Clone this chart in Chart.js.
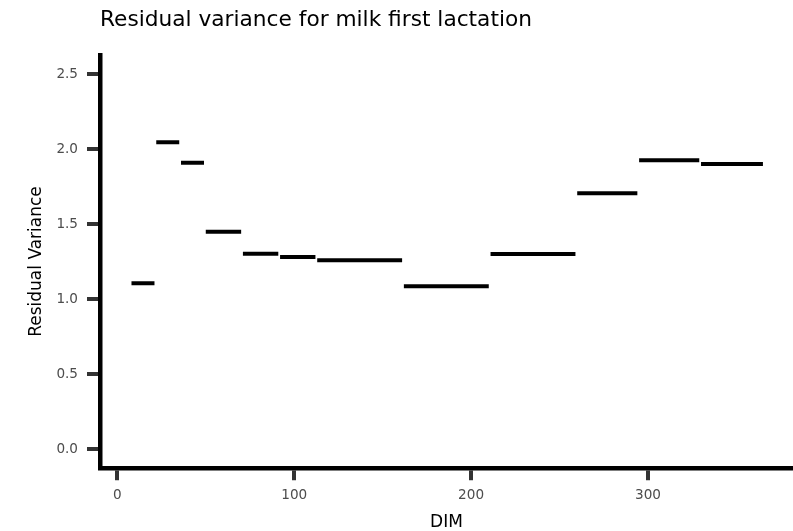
<!DOCTYPE html>
<html><head><meta charset="utf-8">
<script src="https://cdn.jsdelivr.net/npm/chart.js@4"></script>
<style>html,body{margin:0;padding:0;background:#fff;overflow:hidden}</style>
</head><body><canvas id="c" width="793" height="531"></canvas>
<script>
const segStart = [8, 22, 36, 50, 71, 92, 113, 162, 211, 260, 295, 330];
const segEnd = [21, 35, 49, 70, 91, 112, 161, 210, 259, 294, 329, 365];
const residualVariance = [1.105, 2.045, 1.909, 1.449, 1.302, 1.280, 1.258, 1.085, 1.300, 1.705, 1.925, 1.900];
const xTicks = [0, 100, 200, 300];
const yTicks = [0.0, 0.5, 1.0, 1.5, 2.0, 2.5];

const FONT = "'DejaVu Sans', 'Liberation Sans', sans-serif";
Chart.defaults.font.family = FONT;

const datasets = residualVariance.map((v, i) => ({
  data: [{x: segStart[i], y: v}, {x: segEnd[i], y: v}],
  showLine: true,
  borderColor: '#000',
  borderWidth: 4,
  borderCapStyle: 'butt',
  pointRadius: 0,
  pointHoverRadius: 0,
  fill: false
}));

new Chart(document.getElementById('c'), {
  type: 'scatter',
  data: { datasets },
  options: {
    responsive: false,
    animation: false,
    devicePixelRatio: 1,
    layout: { padding: 0 },
    plugins: {
      legend: { display: false },
      tooltip: { enabled: false },
      title: {
        display: true,
        text: 'Residual variance for milk first lactation',
        align: 'start',
        fullSize: false,
        color: '#000',
        font: { size: 21.7, weight: 'normal', lineHeight: 1.2 },
        padding: { top: 7.7, bottom: 21.5 }
      }
    },
    scales: {
      x: {
        type: 'linear',
        min: -9.8,
        max: 382,
        afterFit: s => { s.height = 63.25; },
        afterBuildTicks: s => { s.ticks = xTicks.map(v => ({ value: v })); },
        ticks: { color: '#4d4d4d', font: { size: 13.6 }, padding: 7, maxRotation: 0, autoSkip: false },
        grid: { drawOnChartArea: false, drawTicks: true, tickLength: 12.5, lineWidth: 4, tickColor: '#333333' },
        border: { display: true, color: '#000', width: 4.5 },
        title: { display: true, text: 'DIM', color: '#000', font: { size: 17, lineHeight: 1 }, padding: { top: 0, bottom: 0 } }
      },
      y: {
        type: 'linear',
        min: -0.125,
        max: 2.625,
        afterFit: s => { s.width = 100; },
        afterBuildTicks: s => { s.ticks = yTicks.map(v => ({ value: v })); },
        ticks: { color: '#4d4d4d', font: { size: 13.6 }, padding: 9, callback: v => Number(v).toFixed(1) },
        grid: { drawOnChartArea: false, drawTicks: true, tickLength: 13, lineWidth: 4, tickColor: '#333333' },
        border: { display: true, color: '#000', width: 4.5 },
        title: { display: true, text: 'Residual Variance', color: '#000', font: { size: 17, lineHeight: 1 }, padding: { top: 28.5, bottom: 0 } }
      }
    }
  }
});
</script>
</body></html>
